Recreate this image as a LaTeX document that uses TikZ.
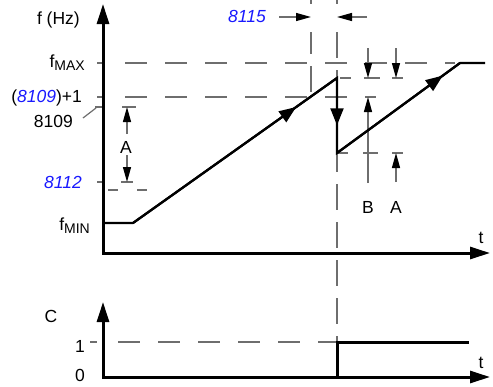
\documentclass[tikz,border=0pt]{standalone}
\usepackage{fontspec}
\setmainfont{Liberation Sans}
\usetikzlibrary{arrows.meta,decorations.markings}
\definecolor{guidegray}{RGB}{110,110,110}
\definecolor{numblue}{RGB}{25,25,255}
\tikzset{
  axis/.style={line width=3pt, -{Triangle[length=20pt,width=12pt]}},
  curve/.style={line width=2.2pt, black},
  signal/.style={line width=3pt, black},
  guide/.style={guidegray, line width=1.3pt, dash pattern=on 22pt off 18pt},
  vguide/.style={guidegray, line width=1.3pt, dash pattern=on 26pt off 12pt},
  tickline/.style={guidegray, line width=1.2pt},
  dimarrow/.style={guidegray, line width=1.3pt, -{Triangle[length=15pt,width=8pt,color=black]}},
  lbl/.style={font=\fontsize{17.5}{20}\selectfont, inner sep=0pt},
  numlbl/.style={lbl, text=numblue, font=\fontsize{17.5}{20}\selectfont\itshape},
  midarrow/.style={postaction={decorate}, decoration={markings,
      mark=at position #1 with {\arrow{Triangle[length=17pt,width=13pt]}}}},
}
\newcommand{\subtxt}[1]{\raisebox{-3pt}{\fontsize{14}{14}\selectfont #1}}
\begin{document}
\begin{tikzpicture}[x=1pt,y=-1pt]
\useasboundingbox (0,0) rectangle (493,386);
% ---------- key coordinates ----------
\coordinate (O) at (103,253);
\coordinate (Ostart) at (103,254.5);
\coordinate (Ytop) at (103,4);
\coordinate (Xend) at (490,253);
\coordinate (fmin0) at (103,223);
\coordinate (r1s) at (133,223);
\coordinate (peak) at (337,78);
\coordinate (trough) at (337,153);
\coordinate (topc) at (460,63);
\coordinate (topend) at (485,63);
\coordinate (O2) at (103,377);
\coordinate (O2start) at (103,378.5);
\coordinate (Y2top) at (103,302);
\coordinate (X2end) at (490,377);
\coordinate (s0) at (337,377);
\coordinate (s1) at (337,342);
\coordinate (s2) at (469,342);
% ---------- guide lines ----------
\draw[guide] (125,63) -- (455,63);
\draw[guide] (125,97) -- (376,97);
\draw[guide, dash pattern=on 10pt off 19pt] (108,190) -- (148,190);
\draw[guide] (118,342) -- (337,342);
\draw[vguide, dash pattern=on 4pt off 28pt on 22pt off 12pt on 26pt off 100pt] (311,0) -- (311,97);
\draw[vguide, dash pattern=on 4pt off 28pt] (337,0) -- (337,32);
\draw[vguide] (337,32) -- (337,342);
% ticks at the axes
\draw[tickline] (97,63) -- (104,63);
\draw[tickline] (97,97) -- (104,97);
\draw[tickline] (95,107) -- (104,107);
\draw[tickline] (97,182) -- (104,182);
\draw[tickline] (90,342) -- (97,342);
\draw[tickline] (83,118) -- (96,108);
% dimension ticks
\draw[tickline] (122,107) -- (136,107);
\draw[tickline] (121,182) -- (133,182);
\draw[tickline] (340,78) -- (351,78);
\draw[tickline] (364,78) -- (380,78);
\draw[tickline] (392,78) -- (403,78);
\draw[tickline] (337,153) -- (348,153);
\draw[tickline] (363,153) -- (378,153);
\draw[tickline] (392,153) -- (403,153);
% ---------- dimension arrows ----------
\coordinate (aL1) at (127,134); \coordinate (aL1t) at (127,107);
\coordinate (aL2) at (127,155); \coordinate (aL2t) at (127,182);
\draw[dimarrow] (aL1) -- (aL1t);
\draw[dimarrow] (aL2) -- (aL2t);
\coordinate (t1) at (279,17); \coordinate (t1t) at (311,17);
\coordinate (t2) at (367,17); \coordinate (t2t) at (337,17);
\draw[dimarrow] (t1) -- (t1t);
\draw[dimarrow] (t2) -- (t2t);
\coordinate (bD) at (368,48); \coordinate (bDt) at (368,78);
\coordinate (bU) at (368,183); \coordinate (bUt) at (368,97);
\draw[dimarrow] (bD) -- (bDt);
\draw[dimarrow] (bU) -- (bUt);
\coordinate (aD) at (396,48); \coordinate (aDt) at (396,78);
\coordinate (aU) at (396,182); \coordinate (aUt) at (396,153);
\draw[dimarrow] (aD) -- (aDt);
\draw[dimarrow] (aU) -- (aUt);
% ---------- axes ----------
\draw[axis] (Ostart) -- (Ytop);
\draw[axis] (O) -- (Xend);
\draw[axis] (O2start) -- (Y2top);
\draw[axis] (O2) -- (X2end);
% ---------- curves ----------
\draw[curve] (fmin0) -- (r1s) -- (peak) -- (trough) -- (topc) -- (topend);
\draw[curve, midarrow=0.8] (r1s) -- (peak);
\draw[curve, midarrow=0.63] (peak) -- (trough);
\draw[curve, midarrow=0.86] (trough) -- (topc);
\draw[signal] (O2) -- (s0) -- (s1) -- (s2);
% ---------- labels ----------
\node[lbl, anchor=base east] (lfhz) at (80,24) {f (Hz)};
\node[lbl, anchor=base east] (lfmax) at (85,67) {f\subtxt{MAX}};
\node[lbl, anchor=base east] (l8109p) at (82,102) {(\textcolor{numblue}{\itshape 8109})+1};
\node[lbl, anchor=base east] (l8109) at (73,127) {8109};
\node[numlbl, anchor=base east] (l8112) at (82,188) {8112};
\node[lbl, anchor=base east] (lfmin) at (90,230) {f\subtxt{MIN}};
\node[lbl, anchor=base] (lAl) at (126,153) {A};
\node[numlbl, anchor=base east] (l8115) at (266,22) {8115};
\node[lbl, anchor=base] (lB) at (368,213) {B};
\node[lbl, anchor=base] (lAr) at (396,213) {A};
\node[lbl, anchor=base] (lt1) at (481,243) {t};
\node[lbl, anchor=base] (lC) at (51,322) {C};
\node[lbl, anchor=base] (l1) at (80,352) {1};
\node[lbl, anchor=base] (l0) at (80,381) {0};
\node[lbl, anchor=base] (lt2) at (481,368) {t};
\end{tikzpicture}
\end{document}
